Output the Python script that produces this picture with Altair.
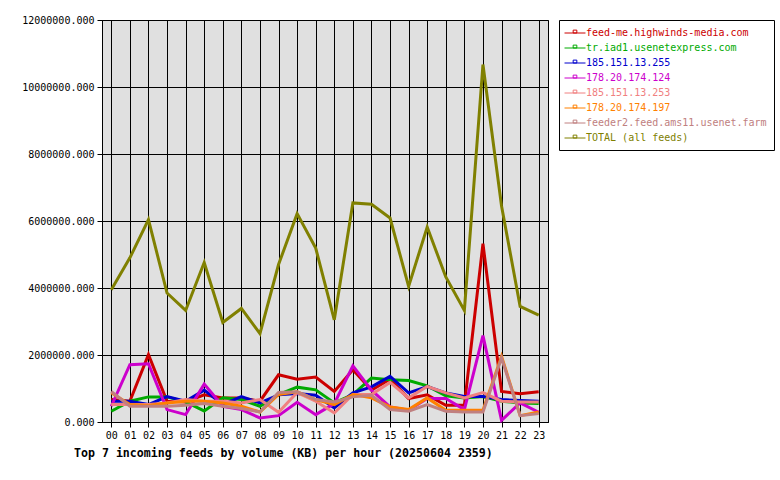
import altair as alt
import pandas as pd

hours = [f"{h:02d}" for h in range(24)]

feeds = [
    "feed-me.highwinds-media.com",
    "tr.iad1.usenetexpress.com",
    "185.151.13.255",
    "178.20.174.124",
    "185.151.13.253",
    "178.20.174.197",
    "feeder2.feed.ams11.usenet.farm",
    "TOTAL (all feeds)",
]
colors = ["#cc0000", "#00aa00", "#0000cc", "#cc00cc", "#f08080",
          "#ff8000", "#c08080", "#808000"]

# values in millions of KB
feed_me = [0.67, 0.62, 2.01, 0.62, 0.60, 0.81, 0.72, 0.72, 0.62, 1.41, 1.28, 1.34,
           0.91, 1.56, 0.95, 1.28, 0.70, 0.81, 0.50, 0.50, 5.32, 0.91, 0.84, 0.90]
tr_iad1 = [0.32, 0.62, 0.75, 0.75, 0.60, 0.33, 0.72, 0.67, 0.47, 0.82, 1.04, 0.96,
           0.57, 0.82, 1.31, 1.26, 1.24, 1.08, 0.78, 0.72, 0.76, 0.62, 0.57, 0.55]
ip_255 = [0.62, 0.62, 0.52, 0.76, 0.62, 0.95, 0.52, 0.76, 0.57, 0.81, 0.85, 0.80,
          0.42, 0.87, 1.05, 1.36, 0.87, 1.06, 0.87, 0.76, 0.76, 0.67, 0.64, 0.62]
ip_124 = [0.47, 1.71, 1.74, 0.37, 0.22, 1.13, 0.47, 0.37, 0.12, 0.19, 0.59, 0.22,
          0.55, 1.68, 0.95, 0.45, 0.35, 0.70, 0.70, 0.37, 2.58, 0.05, 0.57, 0.29]
ip_253 = [0.52, 0.52, 0.52, 0.57, 0.67, 0.62, 0.62, 0.57, 0.67, 0.29, 0.88, 0.62,
          0.27, 0.82, 0.82, 1.18, 0.72, 1.06, 0.87, 0.72, 0.88, 0.62, 0.60, 0.60]
ip_197 = [0.87, 0.52, 0.49, 0.57, 0.62, 0.62, 0.57, 0.47, 0.30, 0.82, 0.90, 0.67,
          0.52, 0.82, 0.72, 0.45, 0.37, 0.72, 0.35, 0.35, 0.35, 1.96, 0.19, 0.30]
feeder2 = [0.91, 0.47, 0.47, 0.47, 0.50, 0.55, 0.47, 0.40, 0.30, 0.88, 0.90, 0.67,
           0.60, 0.75, 0.80, 0.37, 0.32, 0.52, 0.32, 0.30, 0.30, 1.91, 0.19, 0.25]
total = [3.95, 4.90, 6.04, 3.85, 3.33, 4.76, 2.97, 3.39, 2.64, 4.70, 6.22, 5.19,
         3.05, 6.54, 6.50, 6.09, 4.05, 5.82, 4.33, 3.33, 10.67, 6.45, 3.45, 3.19]

series = [feed_me, tr_iad1, ip_255, ip_124, ip_253, ip_197, feeder2, total]

rows = []
for name, vals in zip(feeds, series):
    for h, v in zip(hours, vals):
        rows.append({"hour": h, "feed": name, "kb": v * 1e6})
df = pd.DataFrame(rows)

FONT = "DejaVu Sans Mono"

legend_symbol = "M-2,0H2M-0.35,-0.55H0.35V0H-0.35Z"

color = alt.Color(
    "feed:N",
    scale=alt.Scale(domain=feeds, range=colors),
    sort=feeds,
    legend=alt.Legend(
        title=None,
        orient="none",
        legendX=457,
        legendY=0,
        fillColor="white",
        strokeColor="black",
        padding=7,
        labelFont=FONT,
        labelFontSize=10,
        labelColor={"expr": "scale('color', datum.value)"},
        symbolType=legend_symbol,
        symbolSize=110,
        symbolStrokeWidth=1,
        symbolFillColor="transparent",
        labelOffset=5,
        symbolOffset=3,
        rowPadding=4,
        labelLimit=300,
    ),
)

x = alt.X(
    "hour:O",
    scale=alt.Scale(type="point", padding=0.5),
    axis=alt.Axis(
        title=None, labelAngle=0, labelFont=FONT, labelFontSize=10,
        labelColor="black", tickColor="black", tickSize=5, domainColor="black",
        gridColor="black", gridOpacity=1, grid=True, labelPadding=3,
    ),
)
y = alt.Y(
    "kb:Q",
    scale=alt.Scale(domain=[0, 12e6], nice=False),
    axis=alt.Axis(
        title=None, values=[0, 2e6, 4e6, 6e6, 8e6, 10e6, 12e6], format=".3f",
        labelFont=FONT, labelFontSize=10, labelColor="black",
        tickColor="black", tickSize=5, domainColor="black",
        gridColor="black", gridOpacity=1, labelPadding=3,
    ),
)

layers = []
for name in feeds:
    layers.append(
        alt.Chart(df)
        .transform_filter(alt.datum.feed == name)
        .mark_line(strokeWidth=3, strokeJoin="miter")
        .encode(x=x, y=y, color=color)
    )

chart = (
    alt.layer(*layers)
    .properties(
        width=446,
        height=402,
        autosize=alt.AutoSizeParams(type="none"),
        padding={"left": 102, "top": 20, "right": 232, "bottom": 58},
        background="white",
        title=alt.TitleParams(
            "Top 7 incoming feeds by volume (KB) per hour (20250604 2359)",
            orient="bottom", anchor="start", frame="group",
            font=FONT, fontSize=11.6, fontWeight="bold", color="black",
            dx=-28, offset=8,
        ),
    )
    .configure_view(fill="#e0e0e0", stroke="black", strokeWidth=1)
)

chart.save("out.html", embed_options={"renderer": "svg", "actions": False})
